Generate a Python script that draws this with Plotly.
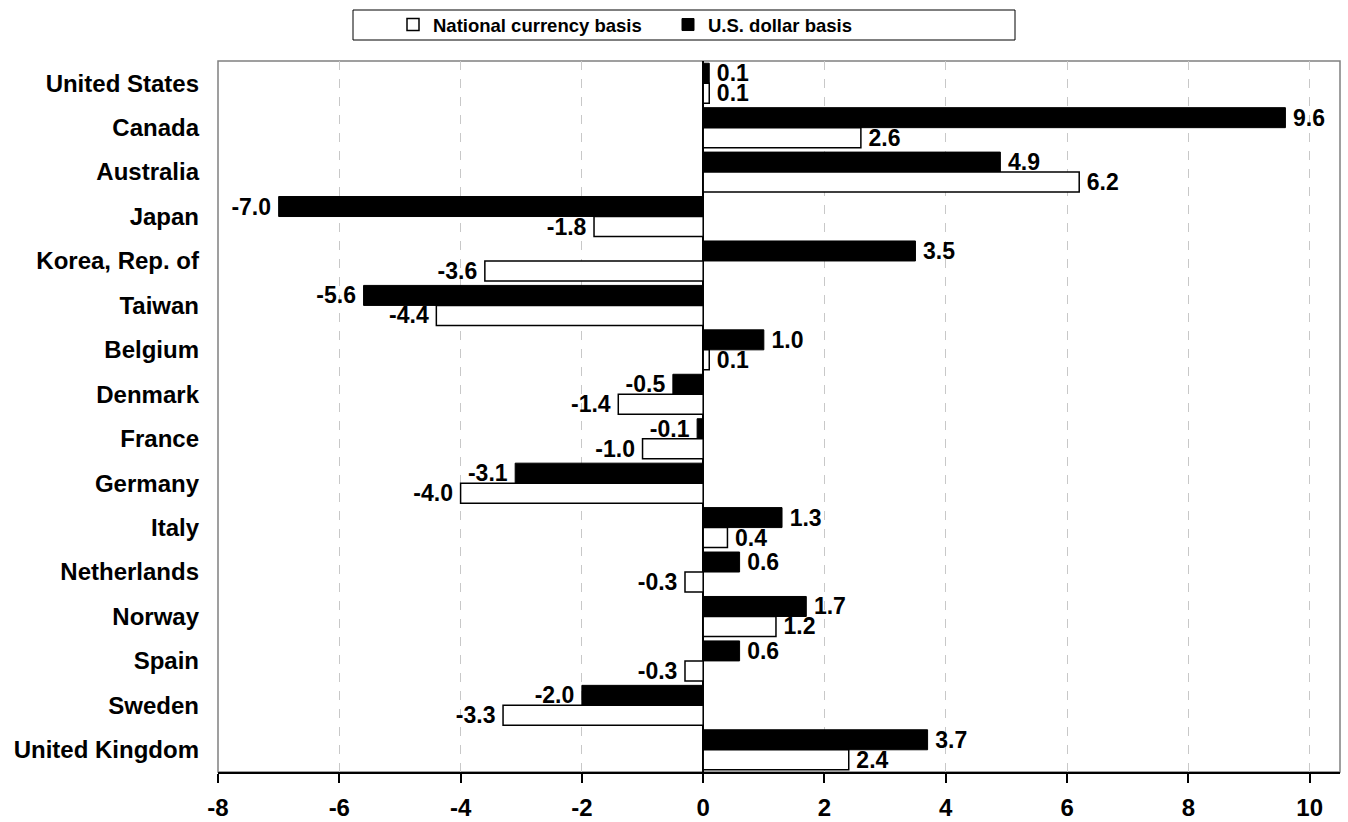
import numpy as np
import plotly.graph_objects as go

countries = ["United States", "Canada", "Australia", "Japan", "Korea, Rep. of", "Taiwan",
             "Belgium", "Denmark", "France", "Germany", "Italy", "Netherlands", "Norway",
             "Spain", "Sweden", "United Kingdom"]
usd_basis = [0.1, 9.6, 4.9, -7.0, 3.5, -5.6, 1.0, -0.5, -0.1, -3.1, 1.3, 0.6, 1.7, 0.6, -2.0, 3.7]
national_basis = [0.1, 2.6, 6.2, -1.8, -3.6, -4.4, 0.1, -1.4, -1.0, -4.0, 0.4, -0.3, 1.2, -0.3, -3.3, 2.4]
x_ticks = [-8, -6, -4, -2, 0, 2, 4, 6, 8, 10]
x_tick_labels = ["-8", "-6", "-4", "-2", "0", "2", "4", "6", "8", "10"]
x_range = [-8, 10.5]

FONT = "Liberation Sans, Arial, sans-serif"
lab_font = dict(family=FONT, size=23, color="black", weight="bold")
cat_font = dict(family=FONT, size=24, color="black", weight="bold")
tick_font = dict(family=FONT, size=24, color="black", weight="bold")

W, H = 1348, 822
ML, MR, MT, MB = 218, 8, 61, 50
PW, PH = W - ML - MR, H - MT - MB


def bar_text(values):
    # thin space on the side facing the bar, to mimic the reference's label gap
    return [("\u2009" + f"{v:.1f}") if v >= 0 else (f"{v:.1f}" + "\u2009") for v in values]


fig = go.Figure()
fig.add_trace(go.Bar(
    y=countries, x=usd_basis, orientation="h", name="U.S. dollar basis",
    marker=dict(color="black", line=dict(color="black", width=1)),
    text=bar_text(usd_basis), textposition="outside", textfont=lab_font,
    cliponaxis=False, constraintext="none", legendrank=2,
))
fig.add_trace(go.Bar(
    y=countries, x=national_basis, orientation="h", name="National currency basis",
    marker=dict(color="white", line=dict(color="black", width=1.5)),
    text=bar_text(national_basis), textposition="outside", textfont=lab_font,
    cliponaxis=False, constraintext="none", legendrank=1,
))

n = len(countries)
y_rng = [n - 0.5, -0.5]
boundaries = list(np.arange(-0.5, n, 1.0))
zero_pos = (0 - x_range[0]) / (x_range[1] - x_range[0])

fig.update_layout(
    width=W, height=H,
    margin=dict(l=ML, r=MR, t=MT, b=MB, autoexpand=False),
    paper_bgcolor="white", plot_bgcolor="white",
    barmode="group", bargap=0.1, bargroupgap=0.0,
    font=dict(family=FONT, color="black"),
    xaxis=dict(
        range=x_range, tickvals=x_ticks, ticktext=x_tick_labels,
        ticks="outside", ticklen=9, tickwidth=2, automargin=False,
        tickcolor="black", showline=True, linecolor="black", linewidth=2,
        showgrid=True, gridcolor="#c8c8c8", griddash="dash", gridwidth=1,
        zeroline=True, zerolinecolor="black", zerolinewidth=1.5,
        tickfont=tick_font, ticklabelstandoff=4,
    ),
    xaxis2=dict(
        overlaying="x", anchor="y", side="bottom", range=x_range, tickvals=x_ticks,
        ticks="inside", ticklen=8, tickwidth=2, tickcolor="black", automargin=False,
        showticklabels=False, showgrid=False, zeroline=False, showline=False,
    ),
    yaxis=dict(
        type="category", range=y_rng, showline=False, ticks="", showgrid=False,
        ticklabelstandoff=18, tickfont=cat_font, automargin=False,
    ),
    yaxis2=dict(
        overlaying="y", anchor="free", position=zero_pos, type="linear", range=y_rng,
        tickvals=boundaries, ticks="outside", ticklen=7, tickwidth=1.5, tickcolor="black",
        showticklabels=False, showgrid=False, zeroline=False, showline=False, automargin=False,
    ),
    yaxis3=dict(
        overlaying="y", anchor="free", position=zero_pos, type="linear", range=y_rng,
        tickvals=boundaries, ticks="inside", ticklen=7, tickwidth=1.5, tickcolor="black",
        showticklabels=False, showgrid=False, zeroline=False, showline=False, automargin=False,
    ),
    legend=dict(
        orientation="h", x=(393 - ML) / PW, xanchor="left", y=1 + (MT - 6) / PH, yanchor="top",
        borderwidth=0, bgcolor="rgba(0,0,0,0)",
        font=dict(family=FONT, size=18.5, color="black", weight="bold"),
        entrywidth=230, entrywidthmode="pixels", traceorder="normal",
    ),
    shapes=[
        dict(type="rect", xref="paper", yref="paper", x0=0, x1=1, y0=0, y1=1,
             line=dict(color="#808080", width=1.5), layer="below"),
        dict(type="rect", xref="paper", yref="paper",
             x0=(353 - ML) / PW, x1=(1015 - ML) / PW,
             y0=1 + (MT - 40) / PH, y1=1 + (MT - 10) / PH,
             line=dict(color="black", width=1), layer="below"),
    ],
)

fig.write_html("out.html", config={"displayModeBar": False},
               post_script="document.body.style.margin='0px';")
